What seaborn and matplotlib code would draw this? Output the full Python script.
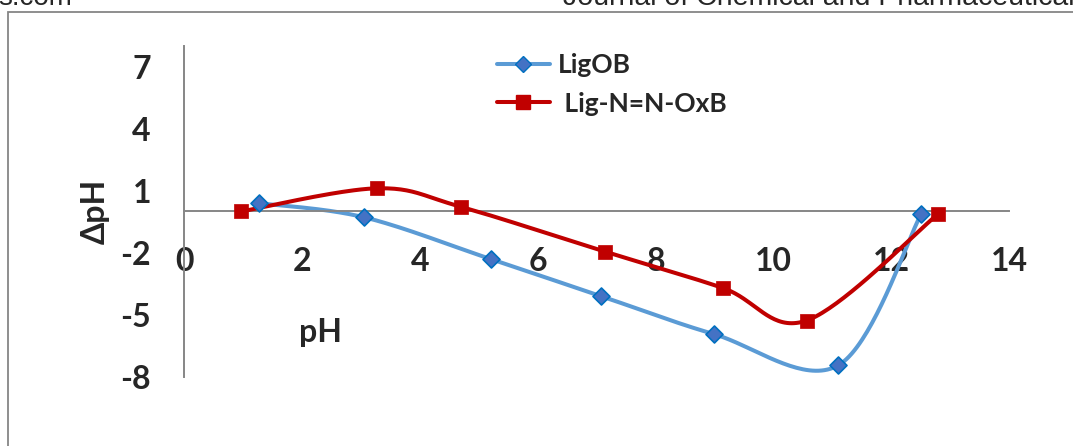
import matplotlib
matplotlib.use("Agg")
import matplotlib.pyplot as plt
import numpy as np
import seaborn as sns
from matplotlib.lines import Line2D
from matplotlib.patches import Rectangle

# values
ligob_ph = [1.27, 3.05, 5.20, 7.07, 8.99, 11.10, 12.50]
ligob_dph = [0.40, -0.28, -2.30, -4.09, -5.93, -7.43, -0.14]

azo_ph = [0.96, 3.27, 4.69, 7.14, 9.14, 10.56, 12.79]
azo_dph = [0.00, 1.12, 0.23, -1.94, -3.70, -5.27, -0.12]

series_names = ["LigOB", " Lig-N=N-OxB"]
x_ticks = [0, 2, 4, 6, 8, 10, 12, 14]
y_ticks = [-8, -5, -2, 1, 4, 7]

BLUE_LINE = "#5B9BD5"
BLUE_FILL = "#4472C4"
BLUE_EDGE = "#0070C0"
RED = "#C00000"
GREY = "#868686"


def smooth(xs, ys, steps=40):
    # Excel-style smoothed line: bezier segments with catmull-rom controls
    p = np.column_stack([xs, ys]).astype(float)
    p = np.vstack([p[0], p, p[-1]])
    out = []
    for i in range(1, len(p) - 2):
        p0, p1, p2, p3 = p[i - 1], p[i], p[i + 1], p[i + 2]
        c1 = p1 + (p2 - p0) / 6
        c2 = p2 - (p3 - p1) / 6
        t = np.linspace(0, 1, steps)[:, None]
        seg = ((1 - t) ** 3) * p1 + 3 * ((1 - t) ** 2) * t * c1 \
            + 3 * (1 - t) * t ** 2 * c2 + t ** 3 * p2
        out.append(seg if i == 1 else seg[1:])
    out = np.vstack(out)
    return out[:, 0], out[:, 1]


sns.set_style("white")
plt.rcParams["font.family"] = ["Lato", "DejaVu Sans"]
plt.rcParams["font.weight"] = "bold"

fig = plt.figure(figsize=(10.73, 4.46), dpi=100)
ax = fig.add_axes([0.1718, 0.1547, 0.7689, 0.7422])

# grey frame around the chart
fig.patches.append(Rectangle((8 / 1073, -0.1), 1.2, 1 - 12 / 446 + 0.1,
                             transform=fig.transFigure, fill=False,
                             edgecolor=GREY, linewidth=1.3, zorder=0))

# cut-off page header
fig.text(-0.002, 1 - 5 / 446, "s.com", fontsize=20, fontweight="normal",
         family="Liberation Sans", va="baseline", ha="left")
fig.text(563 / 1073, 1 - 5 / 446, "Journal of Chemical and Pharmaceutical",
         fontsize=20.5, fontweight="normal", family="Liberation Sans",
         va="baseline", ha="left")

bx, by = smooth(ligob_ph, ligob_dph)
rx, ry = smooth(azo_ph, azo_dph)

sns.lineplot(x=bx, y=by, sort=False, estimator=None, color=BLUE_LINE,
             linewidth=2.9, ax=ax, zorder=2)
sns.lineplot(x=rx, y=ry, sort=False, estimator=None, color=RED,
             linewidth=2.9, ax=ax, zorder=3)
sns.scatterplot(x=ligob_ph, y=ligob_dph, marker="D", s=75, color=BLUE_FILL,
                edgecolor=BLUE_EDGE, linewidth=1.2, ax=ax, zorder=4)
sns.scatterplot(x=azo_ph, y=azo_dph, marker="s", s=95, color=RED,
                edgecolor=RED, linewidth=0.5, ax=ax, zorder=5)

ax.set_xlim(0, 14)
ax.set_ylim(-8, 8)
ax.set_xticks(x_ticks)
ax.set_yticks(y_ticks)
ax.set_xticklabels([str(v) for v in x_ticks])
ax.set_yticklabels([str(v) for v in y_ticks])

ax.spines["left"].set_position(("data", 0))
ax.spines["bottom"].set_position(("data", 0))
ax.spines["top"].set_visible(False)
ax.spines["right"].set_visible(False)
for s in ("left", "bottom"):
    ax.spines[s].set_color(GREY)
    ax.spines[s].set_linewidth(1.4)

ax.tick_params(axis="x", direction="out", length=8.5, width=1.3, color=GREY,
               labelsize=23, pad=17)
ax.tick_params(axis="y", direction="out", length=8, width=1.3, color=GREY,
               labelsize=23, pad=16)
for lab in ax.get_xticklabels() + ax.get_yticklabels():
    lab.set_fontweight("bold")

ax.set_xlabel("pH", fontsize=23, fontweight="bold")
ax.xaxis.set_label_coords(0.1645, 0.178)
ax.set_ylabel("ΔpH", fontsize=23, fontweight="bold")
ax.yaxis.set_label_coords(-0.090, 0.5)

handles = [
    Line2D([], [], color=BLUE_LINE, linewidth=2.9, marker="D", markersize=8,
           markerfacecolor=BLUE_FILL, markeredgecolor=BLUE_EDGE),
    Line2D([], [], color=RED, linewidth=2.9, marker="s", markersize=9.5,
           markerfacecolor=RED, markeredgecolor=RED),
]
leg = fig.legend(handles, series_names, loc="upper left",
                 bbox_to_anchor=(497 / 1073, 1 - 53 / 446), frameon=False,
                 prop={"family": ["Lato", "DejaVu Sans"], "weight": "bold",
                       "size": 19},
                 handlelength=2.0, handletextpad=0.3, labelspacing=0.55,
                 borderaxespad=0, borderpad=0)

fig.savefig("out.png", dpi=100)
